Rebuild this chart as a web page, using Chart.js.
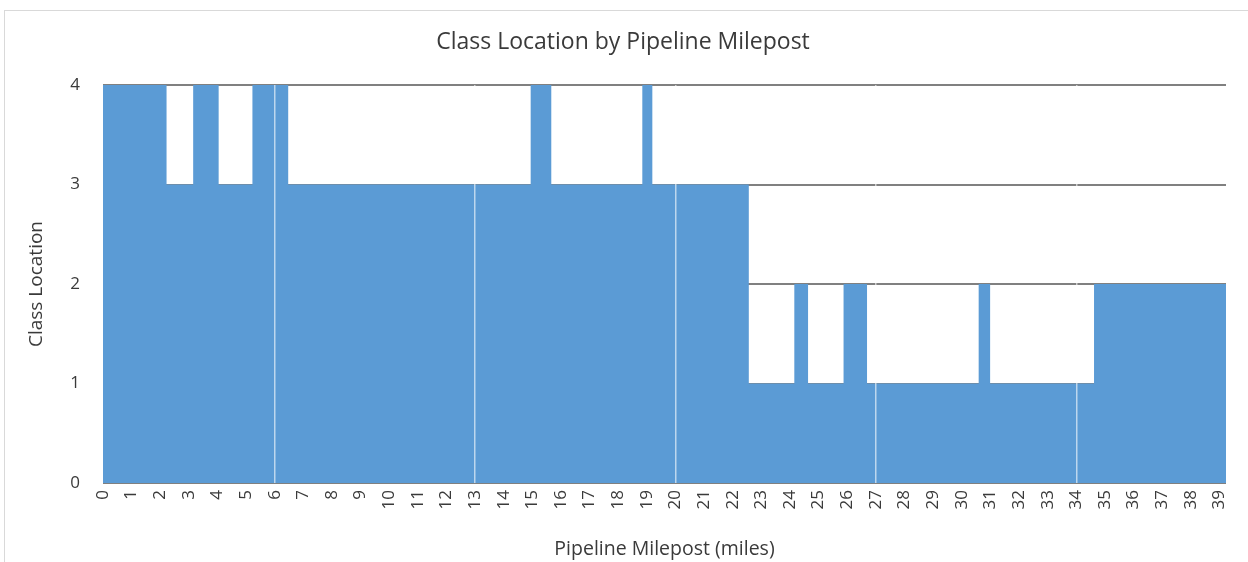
<!DOCTYPE html>
<html>
<head>
<meta charset="utf-8">
<script src="https://cdn.jsdelivr.net/npm/chart.js@4"></script>
<style>
  html, body { margin: 0; padding: 0; background: #fff; overflow: hidden; }
  #wrap { position: relative; width: 1248px; height: 562px; }
  #frame { position: absolute; left: 4px; top: 10px; width: 1260px; height: 600px; border: 1px solid #d9d9d9; }
  canvas { position: absolute; left: 0; top: 0; }
</style>
</head>
<body>
<div id="wrap">
  <div id="frame"></div>
  <canvas id="classChart" width="1248" height="562"></canvas>
</div>
<script>
// milepost where each class segment starts (last entry = end of line)
var mileposts = [0, 2.22, 3.15, 4.04, 5.22, 6.47, 14.94, 15.66, 18.84, 19.19, 22.56, 24.15, 24.63, 25.87, 26.69, 30.59, 30.99, 34.62, 39.23];
var classLocation = [4, 3, 4, 3, 4, 3, 4, 3, 4, 3, 1, 2, 1, 2, 1, 2, 1, 2, 2];
var classTicks = [0, 1, 2, 3, 4];
var lineMarks = [6, 13, 20, 27, 34]; // white marks inside the area

var points = mileposts.map(function (m, i) {
    return { x: m, y: classLocation[i] };
});

var fontFamily = '"Open Sans", Lato, sans-serif';

var ctx = document.getElementById('classChart').getContext('2d');
var classChart = new Chart(ctx, {
    type: 'line',
    data: {
        datasets: [{
            label: 'Class Location',
            data: points,
            stepped: 'before',
            fill: 'origin',
            backgroundColor: '#5b9bd5',
            borderWidth: 0,
            pointRadius: 0
        }]
    },
    options: {
        responsive: false,
        animation: false,
        layout: {
            padding: { left: 20, right: 22, top: 29, bottom: 0 }
        },
        plugins: {
            legend: { display: false },
            tooltip: { enabled: false },
            title: {
                display: true,
                text: 'Class Location by Pipeline Milepost',
                color: '#3a3a3a',
                font: { family: fontFamily, size: 23, weight: 'normal' },
                padding: { top: 0, bottom: 28.4 }
            }
        },
        scales: {
            x: {
                type: 'linear',
                min: 0,
                max: mileposts[mileposts.length - 1],
                afterFit: function (scale) { scale.height = 79; },
                border: { display: false },
                grid: {
                    drawTicks: false,
                    z: 1,
                    lineWidth: 1.5,
                    color: function (c) {
                        return lineMarks.indexOf(c.tick && c.tick.value) >= 0 ? 'rgba(255,255,255,0.6)' : 'rgba(0,0,0,0)';
                    }
                },
                ticks: {
                    stepSize: 1,
                    autoSkip: false,
                    includeBounds: false,
                    minRotation: 90,
                    maxRotation: 90,
                    padding: 7,
                    color: '#3a3a3a',
                    font: { family: fontFamily, size: 17 },
                    callback: function (v) { return Math.round(v); }
                },
                title: {
                    display: true,
                    text: 'Pipeline Milepost (miles)',
                    color: '#3a3a3a',
                    font: { family: fontFamily, size: 19.5 },
                    padding: { top: 1, bottom: 1 }
                }
            },
            y: {
                min: 0,
                max: 4,
                afterFit: function (scale) { scale.width = 83; },
                afterBuildTicks: function (scale) {
                    scale.ticks = classTicks.map(function (v) { return { value: v }; });
                },
                border: { display: false },
                grid: {
                    drawTicks: false,
                    color: '#808080',
                    lineWidth: 2
                },
                ticks: {
                    padding: 23,
                    color: '#3a3a3a',
                    font: { family: fontFamily, size: 17 }
                },
                title: {
                    display: true,
                    text: 'Class Location',
                    color: '#3a3a3a',
                    font: { family: fontFamily, size: 19 },
                    padding: { top: 5, bottom: 0 }
                }
            }
        }
    }
});
</script>
</body>
</html>
